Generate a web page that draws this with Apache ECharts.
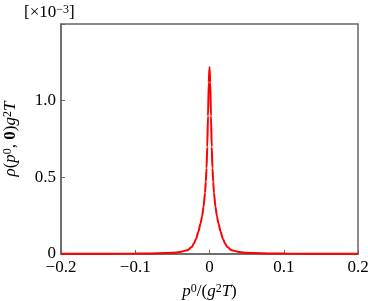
<!DOCTYPE html>
<html>
<head>
<meta charset="utf-8">
<script src="https://cdn.jsdelivr.net/npm/echarts@6/dist/echarts.min.js"></script>
<style>
html, body { margin: 0; padding: 0; background: #fff; }
#chart { width: 368px; height: 301px; }
</style>
</head>
<body>
<div id="chart"></div>
<script>
// p0/(g^2 T) values (symmetric around 0)
var xHalf = [0, 0.001, 0.002, 0.003, 0.004, 0.005, 0.006, 0.008, 0.01, 0.012, 0.015,
  0.018, 0.021, 0.024, 0.03, 0.04, 0.05, 0.06, 0.08, 0.1, 0.15, 0.2];
// rho(p0,0) g^2 T in units of 1e-3
var rhoHalf = [1.22, 1.12, 0.9, 0.7, 0.56, 0.47, 0.4, 0.31, 0.245, 0.2, 0.145,
  0.1, 0.068, 0.045, 0.024, 0.013, 0.008, 0.006, 0.004, 0.003, 0.0015, 0.001];
var xTicks = [-0.2, -0.1, 0, 0.1, 0.2];
var yTicks = [0, 0.5, 1.0];

var pts = [];
for (var i = xHalf.length - 1; i > 0; i--) pts.push([-xHalf[i], rhoHalf[i]]);
for (var j = 0; j < xHalf.length; j++) pts.push([xHalf[j], rhoHalf[j]]);

var font = 'Liberation Serif';
var richText = {
  i: { fontStyle: 'italic', fontFamily: font, fontSize: 17, color: '#000' },
  b: { fontWeight: 'bold', fontFamily: font, fontSize: 17, color: '#000' },
  n: { fontFamily: font, fontSize: 17, color: '#000' },
  s: { fontFamily: font, fontSize: 12, color: '#000', verticalAlign: 'top' }
};

var myChart = echarts.init(document.getElementById('chart'));
var option = {
  animation: false,
  grid: { left: 61, right: 10, top: 24, bottom: 47, containLabel: false, outerBoundsMode: 'none' },
  graphic: [{
    type: 'text', x: 24, y: 4,
    style: {
      text: '{n|[×10}{s|−3}{n|]}',
      rich: richText, fill: '#000'
    }
  }, {
    type: 'rect', z: 0, silent: true,
    shape: { x: 61, y: 24, width: 297, height: 230 },
    style: { fill: 'none', stroke: '#666', lineWidth: 1.5 }
  }],
  xAxis: {
    type: 'value', min: -0.2, max: 0.2, interval: 0.1,
    name: '{i|p}{s|0}{n|/(}{i|g}{s|2}{i|T}{n|)}',
    nameLocation: 'middle', nameGap: 29,
    nameTextStyle: { fontFamily: font, fontSize: 17, color: '#000', rich: richText },
    axisLine: { show: true, onZero: false, lineStyle: { color: '#666', width: 1.5 } },
    axisTick: { show: true, inside: true, length: 4, lineStyle: { color: '#666' } },
    splitLine: { show: false },
    axisLabel: {
      fontFamily: font, fontSize: 17, color: '#000', margin: 5,
      formatter: function (v) {
        if (Math.abs(v) < 1e-9) return '0';
        return (v < 0 ? '−' : '') + Math.abs(v).toFixed(1);
      }
    }
  },
  yAxis: {
    type: 'value', min: 0, max: 1.5, interval: 0.5,
    name: '{i|ρ}{n|(}{i|p}{s|0}{n|, }{b|0}{n|)}{i|g}{s|2}{i|T}',
    nameLocation: 'middle', nameGap: 42, nameRotate: 90,
    nameTextStyle: { fontFamily: font, fontSize: 17, color: '#000', rich: richText },
    axisLine: { show: true, onZero: false, lineStyle: { color: '#666', width: 1.5 } },
    axisTick: { show: true, inside: true, length: 4, lineStyle: { color: '#666' } },
    splitLine: { show: false },
    axisLabel: {
      fontFamily: font, fontSize: 17, color: '#000', margin: 5,
      formatter: function (v) {
        if (v === 0) return '0';
        if (v > 1.2) return '';
        return v.toFixed(1);
      }
    }
  },
  series: [{
    type: 'line',
    data: pts,
    showSymbol: false,
    smooth: 0.25,
    smoothMonotone: 'x',
    lineStyle: { color: '#ff0000', width: 2 },
    itemStyle: { color: '#ff0000' }
  }]
};
myChart.setOption(option);
window.addEventListener('resize', function () { myChart.resize(); });
</script>
</body>
</html>
